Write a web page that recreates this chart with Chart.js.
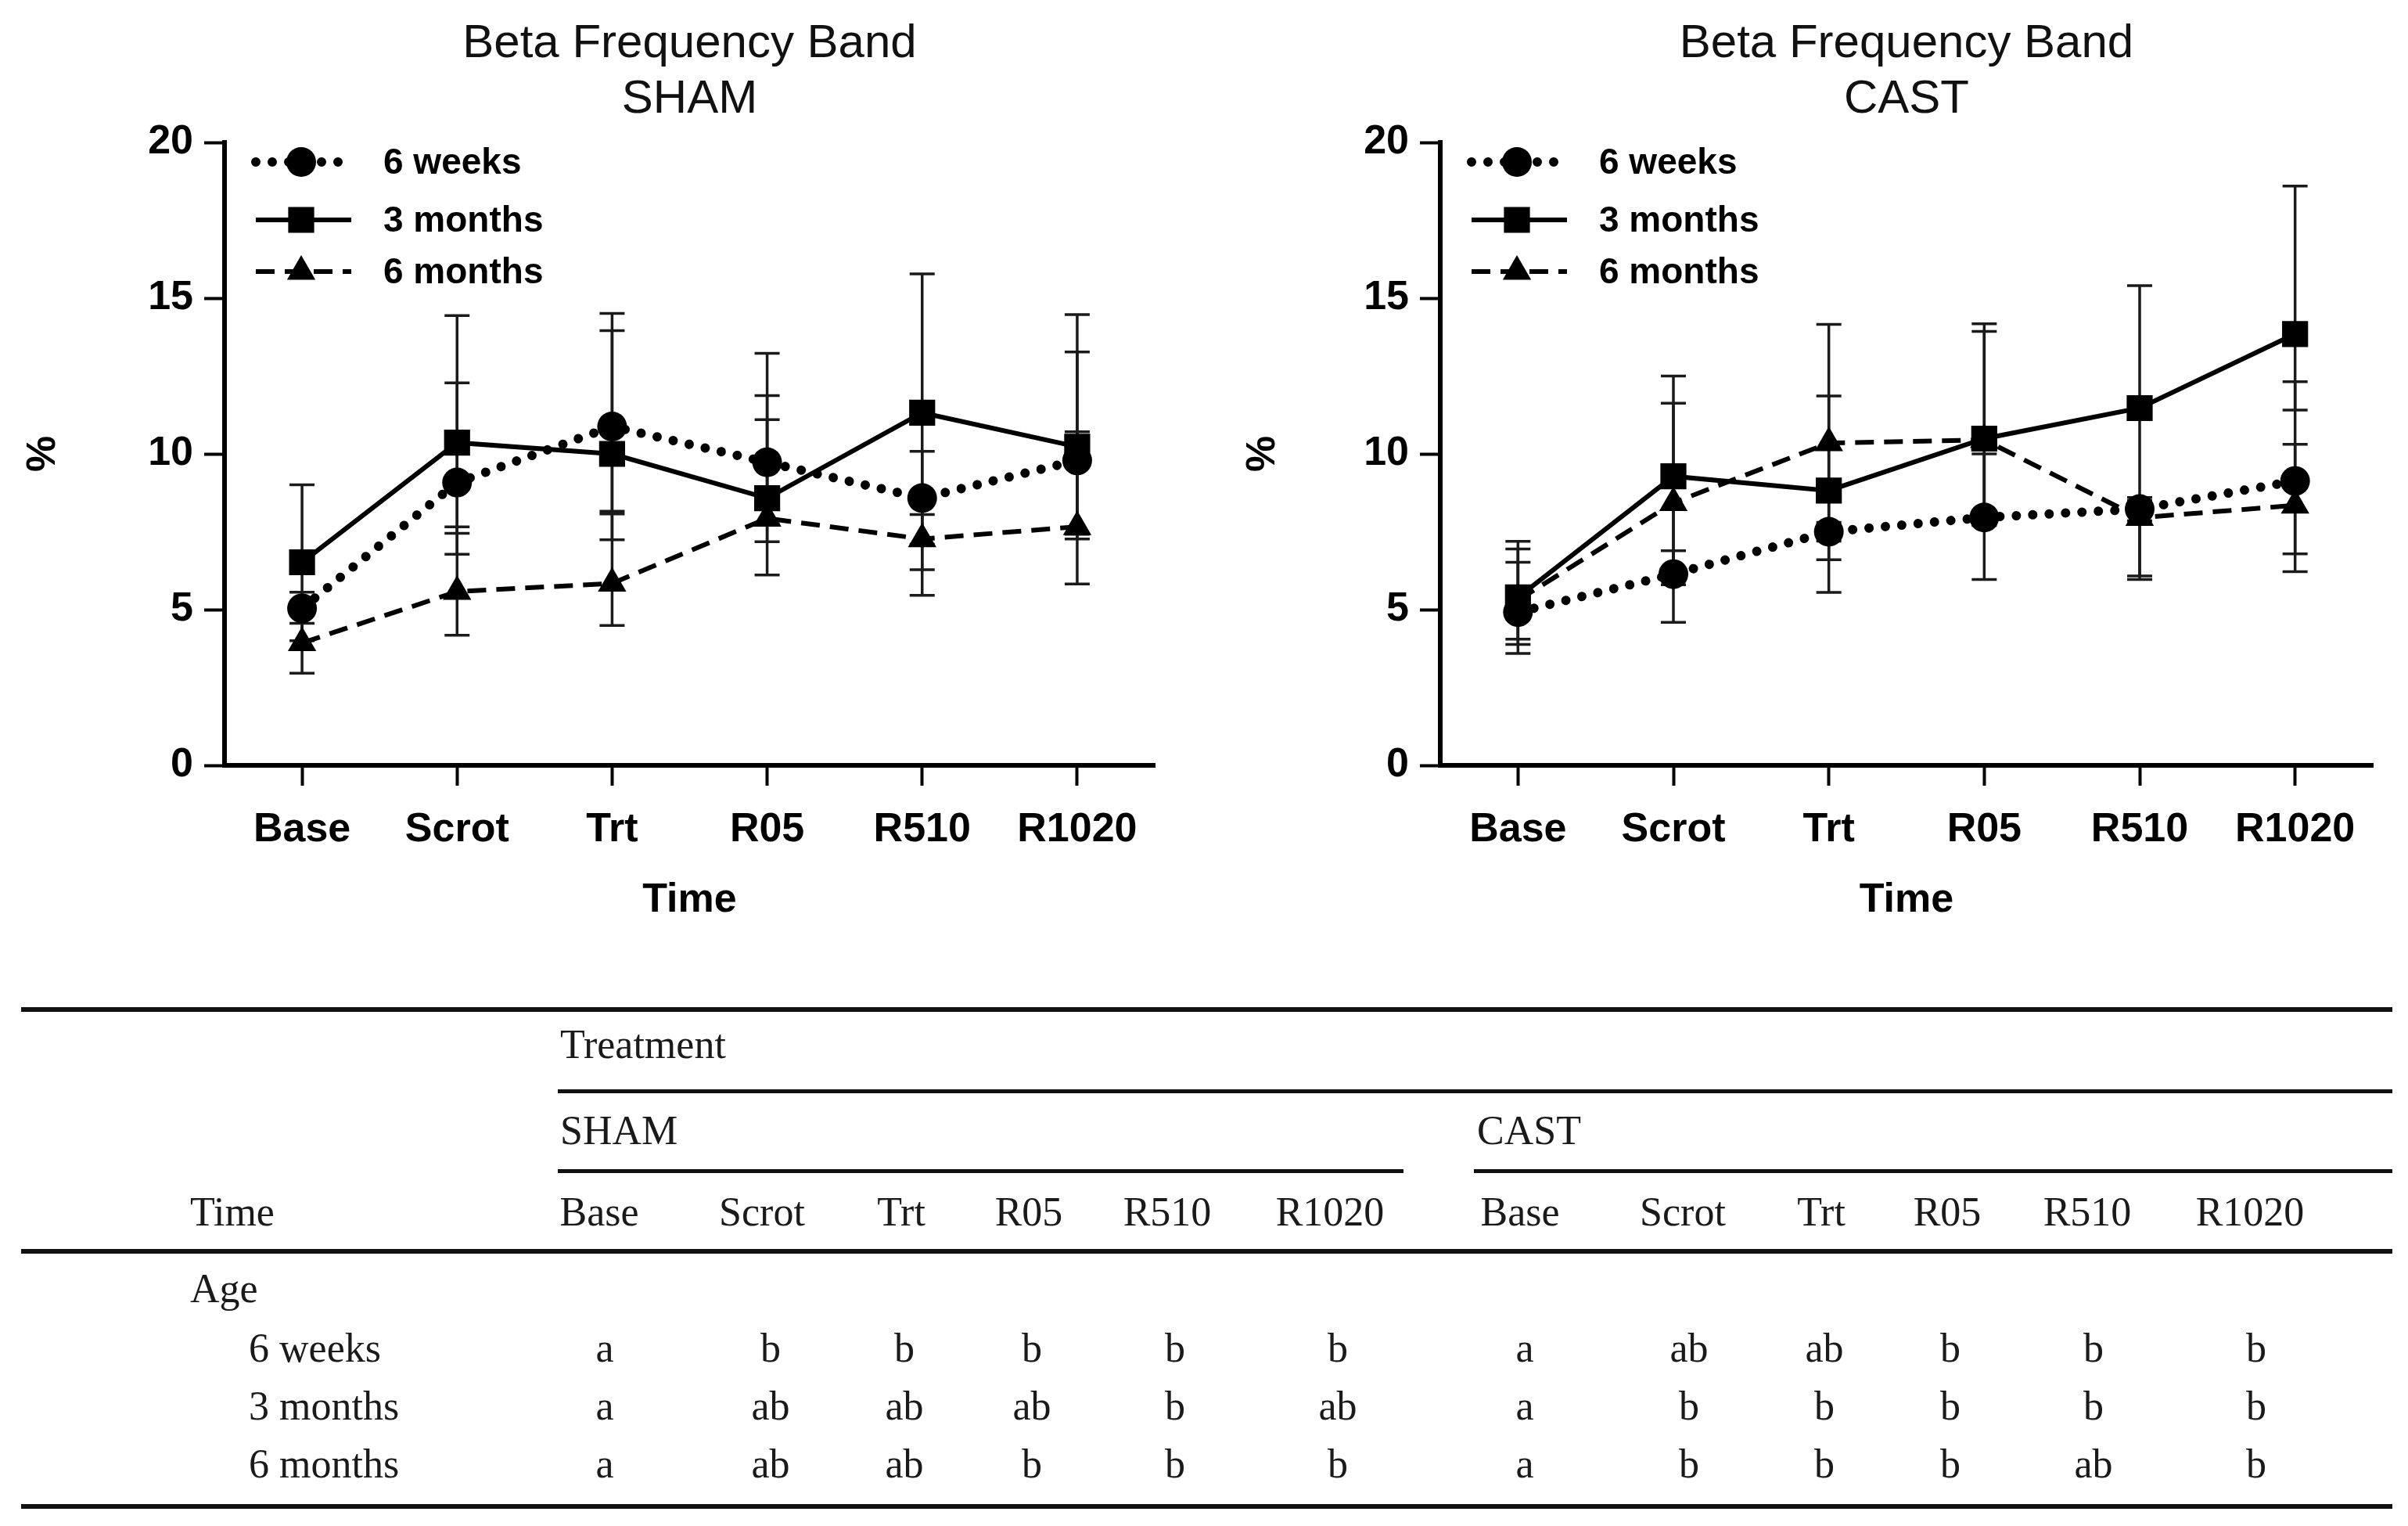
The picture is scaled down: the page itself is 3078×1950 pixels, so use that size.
<!DOCTYPE html>
<html><head><meta charset="utf-8">
<script src="https://cdn.jsdelivr.net/npm/chart.js@4.4.1/dist/chart.umd.min.js"></script>
<style>
html,body{margin:0;padding:0;background:#fff;}
#wrap{position:relative;width:3078px;height:1950px;overflow:hidden;background:#fff;}
canvas{position:absolute;top:0;}
.t{position:absolute;font-family:"Liberation Serif","Times New Roman",serif;font-size:52px;color:#1a1a1a;white-space:nowrap;transform:translate(-50%,-50%);line-height:1;}
.tl{transform:translate(0,-50%);}
.rule{position:absolute;background:#111;}
</style></head><body>
<div id="wrap">
<canvas id="c1" width="1540" height="1200" style="left:0px"></canvas>
<canvas id="c2" width="1538" height="1200" style="left:1540px"></canvas>
</div>
<script>
// ---------- DATA ----------
const timeLabels = ['Base', 'Scrot', 'Trt', 'R05', 'R510', 'R1020'];
const ageLabels = ['6 weeks', '3 months', '6 months'];
const yTicks = [0, 5, 10, 15, 20];

// SHAM means
const sham6w = [5.04, 9.08, 10.88, 9.73, 8.58, 9.79];
const sham3m = [6.52, 10.36, 10.0, 8.58, 11.32, 10.23];
const sham6m = [3.93, 5.58, 5.84, 7.93, 7.27, 7.66];
// SHAM error bar ends
const sham6wLow = [4.56, 7.45, 7.24, 6.11, 7.1, 7.27];
const sham6wHigh = [5.56, 12.28, 14.51, 13.23, 10.08, 13.27];
const sham3mLow = [4.0, 6.78, 8.07, 7.18, 6.28, 5.82];
const sham3mHigh = [9.01, 14.44, 13.96, 11.87, 15.78, 14.47];
const sham6mLow = [2.96, 4.18, 4.49, 7.75, 5.46, 7.42];
const sham6mHigh = [5.1, 7.66, 8.16, 11.10, 8.05, 10.71];

// CAST means
const cast6w = [4.92, 6.14, 7.50, 7.96, 8.23, 9.13];
const cast3m = [5.39, 9.28, 8.82, 10.49, 11.47, 13.85];
const cast6m = [5.3, 8.43, 10.35, 10.45, 7.95, 8.35];
// CAST error bar ends
const cast6wLow = [4.05, 4.59, 7.2, 5.97, 6.08, 6.22];
const cast6wHigh = [6.52, 6.89, 7.8, 10.0, 8.6, 12.32];
const cast3mLow = [3.59, 6.06, 5.55, 8.1, 7.85, 11.41];
const cast3mHigh = [7.19, 12.5, 11.86, 14.18, 15.40, 18.6];
const cast6mLow = [3.88, 5.8, 6.6, 7.7, 5.97, 6.79];
const cast6mHigh = [6.95, 11.63, 14.16, 13.93, 8.5, 10.31];

// Table letters
const shamLetters = [
  ['a', 'b', 'b', 'b', 'b', 'b'],
  ['a', 'ab', 'ab', 'ab', 'b', 'ab'],
  ['a', 'ab', 'ab', 'b', 'b', 'b']
];
const castLetters = [
  ['a', 'ab', 'ab', 'b', 'b', 'b'],
  ['a', 'b', 'b', 'b', 'b', 'b'],
  ['a', 'b', 'b', 'b', 'ab', 'b']
];

// ---------- STYLE / LAYOUT ----------
const SANS = '"Liberation Sans", Arial, Helvetica, sans-serif';
const seriesStyle = [
  {borderWidth: 12, borderDash: [0.001, 21], borderCapStyle: 'round', pointStyle: 'circle', pointRadius: 19},
  {borderWidth: 6, borderDash: [], borderCapStyle: 'butt', pointStyle: 'rect', pointRadius: 23.5},
  {borderWidth: 6, borderDash: [24, 13], borderCapStyle: 'butt', pointStyle: 'triangle', pointRadius: 21}
];

function drawMarker(ctx, style, x, y, r) {
  ctx.beginPath();
  if (style === 'circle') {
    ctx.arc(x, y, r, 0, Math.PI * 2);
  } else if (style === 'rect') {
    const s = Math.SQRT1_2 * r;
    ctx.rect(x - s, y - s, 2 * s, 2 * s);
  } else {
    let rad = 0;
    ctx.moveTo(x + Math.sin(rad) * r, y - Math.cos(rad) * r);
    rad += 2 * Math.PI / 3;
    ctx.lineTo(x + Math.sin(rad) * r, y - Math.cos(rad) * r);
    rad += 2 * Math.PI / 3;
    ctx.lineTo(x + Math.sin(rad) * r, y - Math.cos(rad) * r);
    ctx.closePath();
  }
  ctx.fillStyle = '#000';
  ctx.fill();
}

const errorBarPlugin = {
  id: 'errorBars',
  beforeDatasetsDraw(chart) {
    const ctx = chart.ctx, ys = chart.scales.y;
    ctx.save();
    ctx.strokeStyle = '#1a1a1a';
    ctx.lineWidth = 3.5;
    ctx.setLineDash([]);
    chart.data.datasets.forEach((ds, i) => {
      const meta = chart.getDatasetMeta(i);
      meta.data.forEach((pt, j) => {
        const x = pt.x;
        const yl = ys.getPixelForValue(ds.errLow[j]);
        const yh = ys.getPixelForValue(ds.errHigh[j]);
        ctx.beginPath();
        ctx.moveTo(x, yl); ctx.lineTo(x, yh);
        ctx.moveTo(x - 16, yl); ctx.lineTo(x + 16, yl);
        ctx.moveTo(x - 16, yh); ctx.lineTo(x + 16, yh);
        ctx.stroke();
      });
    });
    ctx.restore();
  }
};

const legendPlugin = {
  id: 'lineLegend',
  afterDraw(chart) {
    const ctx = chart.ctx, a = chart.chartArea;
    const rows = [25, 99, 165];
    chart.data.datasets.forEach((ds, i) => {
      const yy = a.top + rows[i];
      ctx.save();
      ctx.strokeStyle = '#000';
      ctx.lineWidth = ds.borderWidth;
      ctx.lineCap = ds.borderCapStyle;
      ctx.setLineDash(ds.borderDash);
      ctx.beginPath();
      ctx.moveTo(a.left + 40, yy); ctx.lineTo(a.left + 162, yy);
      ctx.stroke();
      ctx.setLineDash([]);
      drawMarker(ctx, ds.pointStyle, a.left + 98, yy, ds.pointRadius);
      ctx.fillStyle = '#000';
      ctx.font = 'bold 46px ' + SANS;
      ctx.textBaseline = 'middle';
      ctx.textAlign = 'left';
      ctx.fillText(ds.label, a.left + 203, yy + 2);
      ctx.restore();
    });
  }
};

function makeDatasets(means, lows, highs) {
  return ageLabels.map((lab, i) => Object.assign({
    label: lab,
    data: means[i],
    errLow: lows[i],
    errHigh: highs[i],
    borderColor: '#000',
    backgroundColor: '#000',
    pointBackgroundColor: '#000',
    pointBorderWidth: 0,
    pointHoverRadius: seriesStyle[i].pointRadius,
    tension: 0,
    fill: false
  }, seriesStyle[i]));
}

function makeOptions(title, yWidth, yTitlePad, padRight) {
  const tickFont = {family: SANS, size: 52, weight: 'bold'};
  const gridOpts = {display: true, drawOnChartArea: false, drawTicks: true, offset: false,
                    tickLength: 26, tickWidth: 4, tickColor: '#000'};
  const borderOpts = {display: true, width: 6, color: '#000'};
  return {
    responsive: false, animation: false, devicePixelRatio: 1,
    layout: {padding: {left: 0, right: padRight, top: 0, bottom: 0}},
    plugins: {
      legend: {display: false}, tooltip: {enabled: false},
      title: {display: true, text: title, fullSize: false, color: '#111',
              font: {family: SANS, size: 60, weight: 'normal', lineHeight: 71 / 60},
              padding: {top: 21, bottom: 19}}
    },
    scales: {
      x: {
        type: 'category', offset: true,
        grid: gridOpts, border: borderOpts,
        ticks: {color: '#000', font: tickFont, padding: 25, maxRotation: 0, autoSkip: false},
        title: {display: true, text: 'Time', color: '#000', font: tickFont, padding: {top: 0, bottom: 18}},
        afterFit(s) { s.height = 222; }
      },
      y: {
        type: 'linear', min: yTicks[0], max: yTicks[yTicks.length - 1],
        afterBuildTicks(s) { s.ticks = yTicks.map(v => ({value: v})); },
        grid: gridOpts, border: borderOpts,
        ticks: {color: '#000', font: tickFont, padding: 14},
        title: {display: true, text: '%', color: '#000', font: tickFont, padding: {top: yTitlePad, bottom: 0}},
        afterFit(s) { s.width = yWidth; }
      }
    }
  };
}

new Chart(document.getElementById('c1'), {
  type: 'line',
  data: {labels: timeLabels,
         datasets: makeDatasets([sham6w, sham3m, sham6m], [sham6wLow, sham3mLow, sham6mLow], [sham6wHigh, sham3mHigh, sham6mHigh])},
  options: makeOptions(['Beta Frequency Band', 'SHAM'], 287, 24, 64),
  plugins: [errorBarPlugin, legendPlugin]
});
new Chart(document.getElementById('c2'), {
  type: 'line',
  data: {labels: timeLabels,
         datasets: makeDatasets([cast6w, cast3m, cast6m], [cast6wLow, cast3mLow, cast6mLow], [cast6wHigh, cast3mHigh, cast6mHigh])},
  options: makeOptions(['Beta Frequency Band', 'CAST'], 301, 43, 45),
  plugins: [errorBarPlugin, legendPlugin]
});

// ---------- TABLE ----------
const wrap = document.getElementById('wrap');
function txt(s, x, y, left) {
  const d = document.createElement('div');
  d.className = 't' + (left ? ' tl' : '');
  d.textContent = s;
  d.style.left = x + 'px';
  d.style.top = y + 'px';
  wrap.appendChild(d);
}
function rule(x1, x2, y, h) {
  const d = document.createElement('div');
  d.className = 'rule';
  d.style.left = x1 + 'px';
  d.style.width = (x2 - x1) + 'px';
  d.style.top = (y - h / 2) + 'px';
  d.style.height = h + 'px';
  wrap.appendChild(d);
}
const shamHeadX = [766, 974, 1152, 1315, 1492, 1700];
const shamValX = [773, 985, 1156, 1319, 1502, 1710];
const castHeadX = [1943, 2151, 2328, 2489, 2668, 2876];
const castValX = [1949, 2159, 2332, 2493, 2676, 2884];
const rowY = [1723, 1797, 1871];

rule(27, 3058, 1290, 6);
txt('Treatment', 716, 1335, true);
rule(713, 3058, 1394, 5);
txt('SHAM', 716, 1445, true);
txt('CAST', 1888, 1445, true);
rule(713, 1794, 1496, 5);
rule(1884, 3058, 1496, 5);
txt('Time', 243, 1549, true);
timeLabels.forEach((t, j) => { txt(t, shamHeadX[j], 1549); txt(t, castHeadX[j], 1549); });
rule(27, 3058, 1599, 6);
txt('Age', 243, 1647, true);
ageLabels.forEach((a, i) => {
  txt(a, 318, rowY[i], true);
  shamLetters[i].forEach((v, j) => txt(v, shamValX[j], rowY[i]));
  castLetters[i].forEach((v, j) => txt(v, castValX[j], rowY[i]));
});
rule(27, 3058, 1925, 6);
</script>
</body></html>
